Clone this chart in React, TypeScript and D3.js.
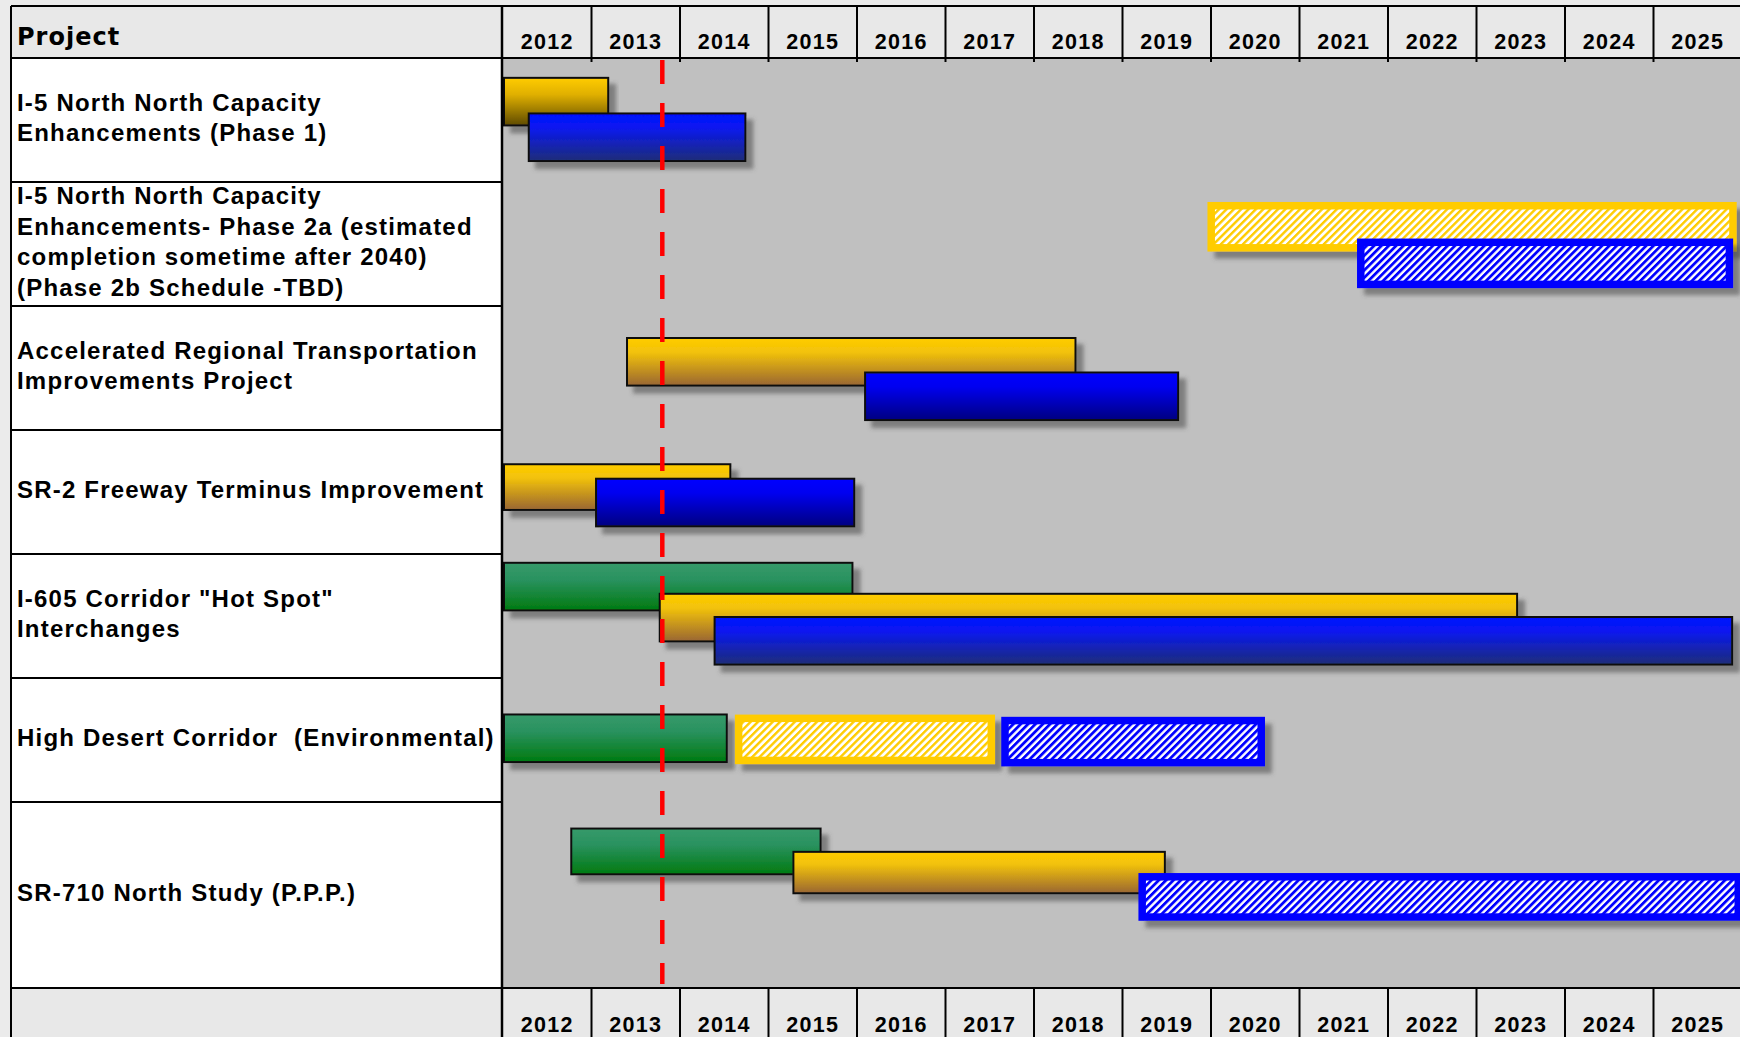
import React from 'react';
import * as d3 from 'd3';

const W = 1740;
const H = 1037;

// ---- data ----
const years = [2012, 2013, 2014, 2015, 2016, 2017, 2018, 2019, 2020, 2021, 2022, 2023, 2024, 2025];
const headerTitle = 'Project';
const projectLines: string[][] = [
  ['I-5 North North Capacity', 'Enhancements (Phase 1)'],
  ['I-5 North North Capacity', 'Enhancements- Phase 2a (estimated', 'completion sometime after 2040)', '(Phase 2b Schedule -TBD)'],
  ['Accelerated Regional Transportation', 'Improvements Project'],
  ['SR-2 Freeway Terminus Improvement'],
  ['I-605 Corridor "Hot Spot"', 'Interchanges'],
  ['High Desert Corridor  (Environmental)'],
  ['SR-710 North Study (P.P.P.)'],
];
const rowSpans = [1, 1, 1, 1, 1, 1, 1.5];
const statusDate = 2013.8;

const taskRow = [0, 0, 1, 1, 2, 2, 3, 3, 4, 4, 4, 5, 5, 5, 6, 6, 6];
const taskKind = [
  'yellowDark', 'blueNavy',
  'yellowHatch', 'blueHatch',
  'yellow', 'blue',
  'yellow', 'blue',
  'green', 'yellow', 'blueNavy',
  'green', 'yellowHatch', 'blueHatch',
  'green', 'yellow', 'blueHatch',
];
const taskStart = [2012.0, 2012.28, 2019.96, 2021.65, 2013.39, 2016.08, 2012.0, 2013.04, 2012.0, 2013.76, 2014.38, 2012.0, 2014.62, 2017.63, 2012.76, 2015.27, 2019.18];
const taskEnd = [2013.2, 2014.75, 2025.94, 2025.9, 2018.48, 2019.64, 2014.58, 2015.98, 2015.96, 2023.47, 2025.9, 2014.54, 2017.56, 2020.61, 2015.6, 2019.49, 2026.0];
// vertical lane inside the row (fraction of a unit row) and bar thickness (fraction of a unit row)
const taskLane = [0.152, 0.439, 0.161, 0.456, 0.25, 0.528, 0.268, 0.385, 0.063, 0.313, 0.5, 0.286, 0.295, 0.313, 0.206, 0.394, 0.573];
const taskThick = [0.4, 0.4, 0.4, 0.4, 0.4, 0.4, 0.385, 0.4, 0.4, 0.4, 0.4, 0.4, 0.4, 0.4, 0.385, 0.35, 0.385];

// ---- layout ----
const LEFT = 11;
const TOP = 6;
const HEAD_B = 58;
const COL_X = 503;
const COL_W = 88.5;
const BODY_B = 988;

const FONT = "'Liberation Sans', Arial, sans-serif";

const solidFill: Record<string, string> = {
  yellow: 'url(#gYellow)',
  yellowDark: 'url(#gYellowDark)',
  blue: 'url(#gBlue)',
  blueNavy: 'url(#gBlueNavy)',
  green: 'url(#gGreen)',
};
const hatch: Record<string, { stroke: string; fill: string }> = {
  yellowHatch: { stroke: '#ffcc00', fill: 'url(#pYellow)' },
  blueHatch: { stroke: '#0000ff', fill: 'url(#pBlue)' },
};

export default function App() {
  const x = d3.scaleLinear().domain([years[0], years[years.length - 1] + 1]).range([COL_X, COL_X + years.length * COL_W]);
  const totalUnits = d3.sum(rowSpans);
  const y = d3.scaleLinear().domain([0, totalUnits]).range([HEAD_B, BODY_B]);
  const rowStart = rowSpans.map((_, i) => d3.sum(rowSpans.slice(0, i)));
  const unit = y(1) - y(0);

  const tasks = taskRow.map((r, i) => ({
    row: r,
    kind: taskKind[i],
    x0: x(taskStart[i]),
    x1: x(taskEnd[i]),
    y0: y(rowStart[r] + taskLane[i]),
    h: taskThick[i] * unit,
  }));

  const lineH = 30.7;

  return (
    <svg width={W} height={H} style={{ position: 'absolute', left: 0, top: 0, display: 'block' }}>
      <defs>
        <linearGradient id="gYellow" x1="0" y1="0" x2="0" y2="1">
          <stop offset="0" stopColor="#ffcc00" />
          <stop offset="0.3" stopColor="#f2c20a" />
          <stop offset="1" stopColor="#996633" />
        </linearGradient>
        <linearGradient id="gYellowDark" x1="0" y1="0" x2="0" y2="1">
          <stop offset="0" stopColor="#ffcc00" />
          <stop offset="0.35" stopColor="#e0b000" />
          <stop offset="1" stopColor="#5e4a00" />
        </linearGradient>
        <linearGradient id="gBlue" x1="0" y1="0" x2="0" y2="1">
          <stop offset="0" stopColor="#0000ff" />
          <stop offset="0.3" stopColor="#0000f0" />
          <stop offset="1" stopColor="#000080" />
        </linearGradient>
        <linearGradient id="gBlueNavy" x1="0" y1="0" x2="0" y2="1">
          <stop offset="0" stopColor="#0010ff" />
          <stop offset="0.3" stopColor="#0a18f0" />
          <stop offset="1" stopColor="#1e2e78" />
        </linearGradient>
        <linearGradient id="gGreen" x1="0" y1="0" x2="0" y2="1">
          <stop offset="0" stopColor="#369a6a" />
          <stop offset="0.35" stopColor="#2a9260" />
          <stop offset="1" stopColor="#007a10" />
        </linearGradient>
        <pattern id="pYellow" width="5.2" height="5.2" patternUnits="userSpaceOnUse" patternTransform="rotate(45)">
          <rect width="5.2" height="5.2" fill="#ffffff" />
          <rect width="2.4" height="5.2" fill="#ffcc00" />
        </pattern>
        <pattern id="pBlue" width="5.2" height="5.2" patternUnits="userSpaceOnUse" patternTransform="rotate(45)">
          <rect width="5.2" height="5.2" fill="#ffffff" />
          <rect width="2.8" height="5.2" fill="#0000ff" />
        </pattern>
        <filter id="shadow" x="-5%" y="-20%" width="115%" height="160%">
          <feDropShadow dx="7" dy="7" stdDeviation="2.2" floodColor="#4a4a4a" floodOpacity="0.55" />
        </filter>
        <clipPath id="chartClip">
          <rect x={COL_X} y={HEAD_B} width={W - COL_X} height={BODY_B - HEAD_B} />
        </clipPath>
      </defs>

      {/* page background */}
      <rect x={0} y={0} width={W} height={H} fill="#ebebeb" />

      {/* header band */}
      <rect x={LEFT} y={TOP} width={W - LEFT} height={HEAD_B - TOP} fill="#e8e8e8" />
      {/* label column */}
      <rect x={LEFT} y={HEAD_B} width={COL_X - LEFT} height={BODY_B - HEAD_B} fill="#ffffff" />
      {/* chart area */}
      <rect x={COL_X} y={HEAD_B} width={W - COL_X} height={BODY_B - HEAD_B} fill="#c0c0c0" />
      {/* bottom header band */}
      <rect x={LEFT} y={BODY_B} width={W - LEFT} height={H - BODY_B} fill="#e8e8e8" />

      {/* bars */}
      <g clipPath="url(#chartClip)">
        {tasks.map((t, i) => {
          const w = t.x1 - t.x0;
          if (hatch[t.kind]) {
            const hs = hatch[t.kind];
            const sw = 7.5;
            return (
              <g key={i} filter="url(#shadow)">
                <rect x={t.x0} y={t.y0} width={w} height={t.h} fill={hs.stroke} />
                <rect x={t.x0 + sw} y={t.y0 + sw} width={w - 2 * sw} height={t.h - 2 * sw} fill={hs.fill} />
              </g>
            );
          }
          return (
            <g key={i} filter="url(#shadow)">
              <rect x={t.x0 + 1} y={t.y0 + 1} width={w - 2} height={t.h - 2} fill={solidFill[t.kind]} stroke="#111" strokeWidth={2} />
            </g>
          );
        })}
      </g>

      {/* status date line */}
      <line x1={x(statusDate)} x2={x(statusDate)} y1={HEAD_B + 2} y2={BODY_B - 4} stroke="#ff0000" strokeWidth={4.5} strokeDasharray="24 19" />

      {/* row separators in label column */}
      {rowSpans.map((_, i) =>
        i === 0 ? null : (
          <line key={i} x1={LEFT} x2={COL_X} y1={y(rowStart[i])} y2={y(rowStart[i])} stroke="#000" strokeWidth={2} />
        )
      )}

      {/* header lines */}
      <line x1={LEFT} x2={W} y1={TOP} y2={TOP} stroke="#000" strokeWidth={2} />
      <line x1={LEFT} x2={W} y1={HEAD_B} y2={HEAD_B} stroke="#000" strokeWidth={2} />
      <line x1={LEFT} x2={W} y1={BODY_B} y2={BODY_B} stroke="#000" strokeWidth={2} />
      <line x1={LEFT} x2={LEFT} y1={TOP} y2={H} stroke="#000" strokeWidth={2} />
      <line x1={COL_X - 1} x2={COL_X - 1} y1={TOP} y2={H} stroke="#000" strokeWidth={2.5} />
      {years.map((yr, i) =>
        i === 0 ? null : (
          <g key={yr}>
            <line x1={x(yr)} x2={x(yr)} y1={TOP} y2={HEAD_B + 4} stroke="#000" strokeWidth={2} />
            <line x1={x(yr)} x2={x(yr)} y1={BODY_B} y2={H} stroke="#000" strokeWidth={2} />
          </g>
        )
      )}

      {/* header text */}
      <text x={17} y={45} fontFamily="'DejaVu Sans', sans-serif" fontWeight="bold" fontSize={24} style={{ letterSpacing: '1px' }} fill="#000">
        {headerTitle}
      </text>
      {years.map((yr) => (
        <g key={'t' + yr}>
          <text x={x(yr + 0.5)} y={48.5} textAnchor="middle" fontFamily={FONT} fontWeight="bold" fontSize={21.5} style={{ letterSpacing: '1.3px' }} fill="#000">
            {yr}
          </text>
          <text x={x(yr + 0.5)} y={1032} textAnchor="middle" fontFamily={FONT} fontWeight="bold" fontSize={21.5} style={{ letterSpacing: '1.3px' }} fill="#000">
            {yr}
          </text>
        </g>
      ))}

      {/* project labels */}
      {projectLines.map((lines, r) => {
        const cy = y(rowStart[r] + rowSpans[r] / 2);
        return (
          <text key={'p' + r} fontFamily={FONT} fontWeight="bold" fontSize={24} fill="#000" style={{ letterSpacing: '1.2px', whiteSpace: 'pre' }}>
            {lines.map((ln, k) => (
              <tspan key={k} x={17} y={cy + 6 + (k - (lines.length - 1) / 2) * lineH}>
                {ln}
              </tspan>
            ))}
          </text>
        );
      })}
    </svg>
  );
}
